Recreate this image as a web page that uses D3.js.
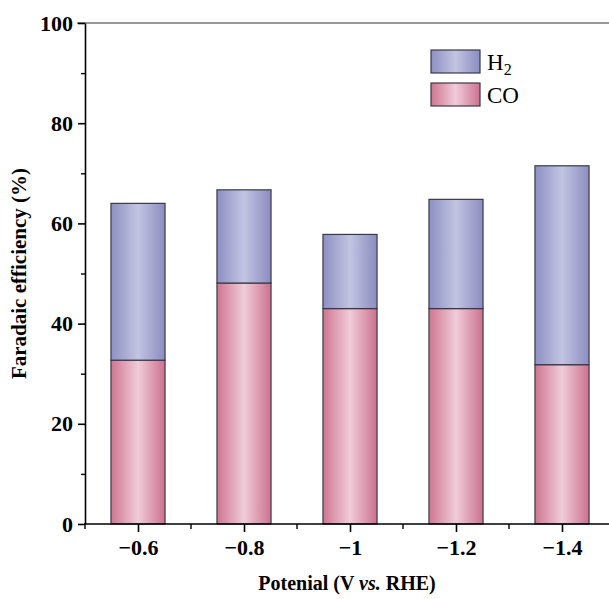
<!DOCTYPE html>
<html><head><meta charset="utf-8">
<script src="https://cdn.jsdelivr.net/npm/d3@7"></script>
<style>body{margin:0;background:#fff}svg{display:block}</style>
</head><body>
<svg id="c" width="609" height="599"></svg>
<script>
const categories = ["\u22120.6", "\u22120.8", "\u22121", "\u22121.2", "\u22121.4"];
const coValues = [32.7, 48.1, 43.0, 43.0, 31.8];
const h2Values = [31.3, 18.6, 14.8, 21.8, 39.7];
const yTicks = [0, 20, 40, 60, 80, 100];
const yMinorTicks = [10, 30, 50, 70, 90];

(function () {
const svg = d3.select("#c");
const pLeft = 85, pRight = 615, pTop = 23, pBottom = 524;
const x = d3.scalePoint().domain(categories).range([pLeft, pRight]).padding(0.5);
const step = x.step();
const y = d3.scaleLinear().domain([0, 100]).range([pBottom, pTop]);
const font = "'Liberation Serif','Times New Roman',serif";

const defs = svg.append("defs");
function grad(id, edge, mid, edge2) {
  const g = defs.append("linearGradient").attr("id", id).attr("x1", "0%").attr("x2", "100%").attr("y1", "0%").attr("y2", "0%");
  g.append("stop").attr("offset", "0%").attr("stop-color", edge);
  g.append("stop").attr("offset", "50%").attr("stop-color", mid);
  g.append("stop").attr("offset", "100%").attr("stop-color", edge2);
}
grad("gH2", "#8d90c3", "#c2c4e2", "#8a8dc0");
grad("gCO", "#cf7592", "#f0ccd8", "#cc7190");

const bw = step * 0.51;
const g = svg.append("g");
g.selectAll("rect.co").data(categories).join("rect").attr("class", "co")
  .attr("x", d => x(d) - bw / 2).attr("width", bw)
  .attr("y", (d, i) => y(coValues[i])).attr("height", (d, i) => y(0) - y(coValues[i]))
  .attr("fill", "url(#gCO)").attr("stroke", "#3a3a44").attr("stroke-width", 1.2);
g.selectAll("rect.h2").data(categories).join("rect").attr("class", "h2")
  .attr("x", d => x(d) - bw / 2).attr("width", bw)
  .attr("y", (d, i) => y(coValues[i] + h2Values[i])).attr("height", (d, i) => y(coValues[i]) - y(coValues[i] + h2Values[i]))
  .attr("fill", "url(#gH2)").attr("stroke", "#3a3a44").attr("stroke-width", 1.2);

svg.append("line").attr("x1", 77).attr("x2", 609).attr("y1", y(100)).attr("y2", y(100))
  .attr("stroke", "#777").attr("stroke-width", 1.6);

const yAxis = svg.append("g").attr("transform", `translate(${pLeft},0)`)
  .call(d3.axisLeft(y).tickValues(yTicks).tickSize(7).tickSizeOuter(0).tickPadding(5).tickFormat(d3.format("d")));
yAxis.select(".domain").attr("stroke", "#000").attr("stroke-width", 1.6);
yAxis.selectAll(".tick line").attr("stroke", "#000").attr("stroke-width", 1.6);
yAxis.selectAll("text").attr("font-family", font).attr("font-weight", "bold").attr("font-size", 22).attr("fill", "#000");
svg.append("g").attr("transform", `translate(${pLeft},0)`)
  .call(d3.axisLeft(y).tickValues(yMinorTicks).tickSize(4).tickFormat(""))
  .call(s => s.select(".domain").remove())
  .selectAll("line").attr("stroke", "#000").attr("stroke-width", 1.4);

const xAxis = svg.append("g").attr("transform", `translate(0,${pBottom})`)
  .call(d3.axisBottom(x).tickSize(8).tickSizeOuter(0).tickPadding(7));
xAxis.select(".domain").attr("d", `M${pLeft - 1},0H609`).attr("stroke", "#000").attr("stroke-width", 1.6);
xAxis.selectAll(".tick line").attr("stroke", "#000").attr("stroke-width", 1.6);
xAxis.selectAll("text").attr("font-family", font).attr("font-weight", "bold").attr("font-size", 22).attr("fill", "#000");
const minorX = categories.map(c => x(c) - step / 2);
svg.append("g").selectAll("line").data(minorX).join("line")
  .attr("x1", d => d).attr("x2", d => d).attr("y1", pBottom).attr("y2", pBottom + 5)
  .attr("stroke", "#000").attr("stroke-width", 1.4);

svg.append("text").attr("transform", `translate(26,${(pTop + pBottom) / 2}) rotate(-90)`)
  .attr("text-anchor", "middle").attr("font-family", font).attr("font-weight", "bold").attr("font-size", 21)
  .text("Faradaic efficiency (%)");
const xt = svg.append("text").attr("x", 347).attr("y", 590).attr("text-anchor", "middle")
  .attr("font-family", font).attr("font-weight", "bold").attr("font-size", 20);
xt.append("tspan").text("Potenial (V ");
xt.append("tspan").attr("font-style", "italic").text("vs.");
xt.append("tspan").text(" RHE)");

const legend = [{fill: "url(#gH2)", label: "H", sub: "2"}, {fill: "url(#gCO)", label: "CO", sub: null}];
const lg = svg.append("g");
legend.forEach((d, i) => {
  const yy = 50 + i * 33;
  lg.append("rect").attr("x", 431).attr("y", yy).attr("width", 49).attr("height", 23)
    .attr("fill", d.fill).attr("stroke", "#3a3a44").attr("stroke-width", 1.2);
  const t = lg.append("text").attr("x", 487).attr("y", yy + 20).attr("font-family", font).attr("font-size", 23).text(d.label);
  if (d.sub) t.append("tspan").attr("font-size", 16).attr("dy", 5).text(d.sub);
});
})();
</script>
</body></html>
